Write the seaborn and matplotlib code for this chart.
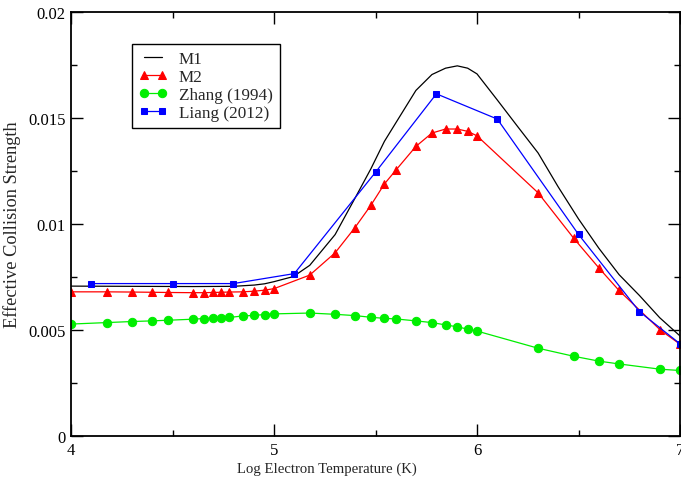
import numpy as np
import pandas as pd
import seaborn as sns
import matplotlib
matplotlib.use("Agg")
import matplotlib.pyplot as plt
from matplotlib.ticker import FixedLocator, FixedFormatter, MultipleLocator

# ---- data ----
m1_logT = [4.0, 4.3, 4.6, 4.8, 4.903, 4.954, 5.0, 5.095, 5.176, 5.301, 5.398, 5.477,
           5.544, 5.602, 5.699, 5.778, 5.845, 5.903, 5.954, 6.0, 6.1, 6.2, 6.301,
           6.4, 6.5, 6.6, 6.7, 6.8, 6.9, 7.0]
m1_val = [0.00707, 0.00706, 0.00705, 0.00706, 0.00712, 0.00718, 0.00728, 0.00752, 0.00805,
          0.00950, 0.01120, 0.01260, 0.01390, 0.01480, 0.01630, 0.01705, 0.01735, 0.01746,
          0.01735, 0.01708, 0.01585, 0.01460, 0.01335, 0.01175, 0.01024, 0.00886, 0.00761,
          0.00663, 0.00558, 0.00472]

m2_logT = [4.0, 4.176, 4.301, 4.398, 4.477, 4.602, 4.653, 4.699, 4.740, 4.778, 4.845,
           4.903, 4.954, 5.0, 5.176, 5.301, 5.398, 5.477, 5.544, 5.602, 5.699, 5.778,
           5.845, 5.903, 5.954, 6.0, 6.301, 6.477, 6.602, 6.699, 6.903, 7.0]
m2_val = [0.00680, 0.00680, 0.00679, 0.00678, 0.00677, 0.00676, 0.00676, 0.00677, 0.00678,
          0.00679, 0.00680, 0.00683, 0.00688, 0.00695, 0.00759, 0.00864, 0.00982, 0.01088,
          0.01189, 0.01256, 0.01366, 0.01429, 0.01448, 0.01448, 0.01437, 0.01416, 0.01147,
          0.00932, 0.00791, 0.00687, 0.00500, 0.00433]

zh_logT = [4.0, 4.176, 4.301, 4.398, 4.477, 4.602, 4.653, 4.699, 4.740, 4.778, 4.845,
           4.903, 4.954, 5.0, 5.176, 5.301, 5.398, 5.477, 5.544, 5.602, 5.699, 5.778,
           5.845, 5.903, 5.954, 6.0, 6.301, 6.477, 6.602, 6.699, 6.903, 7.0]
zh_val = [0.00528, 0.00535, 0.00540, 0.00543, 0.00546, 0.00551, 0.00554, 0.00555, 0.00557,
          0.00559, 0.00566, 0.00569, 0.00573, 0.00576, 0.00580, 0.00574, 0.00568, 0.00560,
          0.00555, 0.00552, 0.00543, 0.00535, 0.00524, 0.00515, 0.00504, 0.00495, 0.00414,
          0.00376, 0.00353, 0.00340, 0.00315, 0.00309]

li_logT = [4.1, 4.5, 4.8, 5.1, 5.5, 5.8, 6.1, 6.5, 6.8, 7.0]
li_val = [0.00719, 0.00719, 0.00719, 0.00766, 0.01244, 0.01614, 0.01495, 0.00951, 0.00587, 0.00435]

x_ticks = [4, 5, 6, 7]
y_ticks = [0, 0.005, 0.01, 0.015, 0.02]
y_tick_labels = ["0", "0.005", "0.01", "0.015", "0.02"]
x_label = "Log Electron Temperature (K)"
y_label = "Effective Collision Strength"

# ---- style ----
sns.set_theme(style="ticks")
plt.rcParams["font.family"] = ["Liberation Serif", "DejaVu Serif"]

fig = plt.figure(figsize=(6.81, 4.81), dpi=100)
ax = fig.add_axes([71 / 681, 1 - 437 / 481, 609 / 681, 424 / 481])

sns.lineplot(x=m1_logT, y=m1_val, ax=ax, color="black", linewidth=0.9, label="M1", sort=False)
sns.lineplot(x=m2_logT, y=m2_val, ax=ax, color="#ff0000", linewidth=0.9, marker="^",
             markersize=6, markeredgecolor="#ff0000", label="M2", sort=False)
sns.lineplot(x=zh_logT, y=zh_val, ax=ax, color="#00ee00", linewidth=0.9, marker="o",
             markersize=6, markeredgecolor="#00ee00", label="Zhang (1994)", sort=False)
sns.lineplot(x=li_logT, y=li_val, ax=ax, color="#0000ff", linewidth=0.9, marker="s",
             markersize=5, markeredgecolor="#0000ff", label="Liang (2012)", sort=False)

ax.set_xlim(4, 7)
ax.set_ylim(0, 0.02)
ax.xaxis.set_major_locator(FixedLocator(x_ticks))
ax.xaxis.set_major_formatter(FixedFormatter([str(t) for t in x_ticks]))
ax.xaxis.set_minor_locator(MultipleLocator(0.5))
ax.yaxis.set_major_locator(FixedLocator(y_ticks))
ax.yaxis.set_major_formatter(FixedFormatter(y_tick_labels))
ax.yaxis.set_minor_locator(MultipleLocator(0.0025))

ax.tick_params(which="both", direction="in", top=True, right=True, colors="black",
               labelsize=12, width=1)
ax.tick_params(which="major", length=8.6, pad=4)
ax.tick_params(which="minor", length=4.3)
for s in ax.spines.values():
    s.set_linewidth(1.3)
    s.set_color("black")

ax.set_xlabel(x_label, fontsize=10.6)
ax.xaxis.set_label_coords((327 - 71) / 609, -0.061)
ax.set_ylabel(y_label, fontsize=13.2)
ax.yaxis.set_label_coords(-0.082, 0.5)

leg = ax.legend(loc="upper left", bbox_to_anchor=(0.1, 0.925), borderaxespad=0,
                fontsize=12.3, frameon=True, fancybox=False, edgecolor="black",
                framealpha=1, numpoints=2, handlelength=1.65, handletextpad=0.7,
                labelspacing=0.12, borderpad=0.4)
leg.get_frame().set_linewidth(1.0)

fig.savefig("out.png", dpi=100)
